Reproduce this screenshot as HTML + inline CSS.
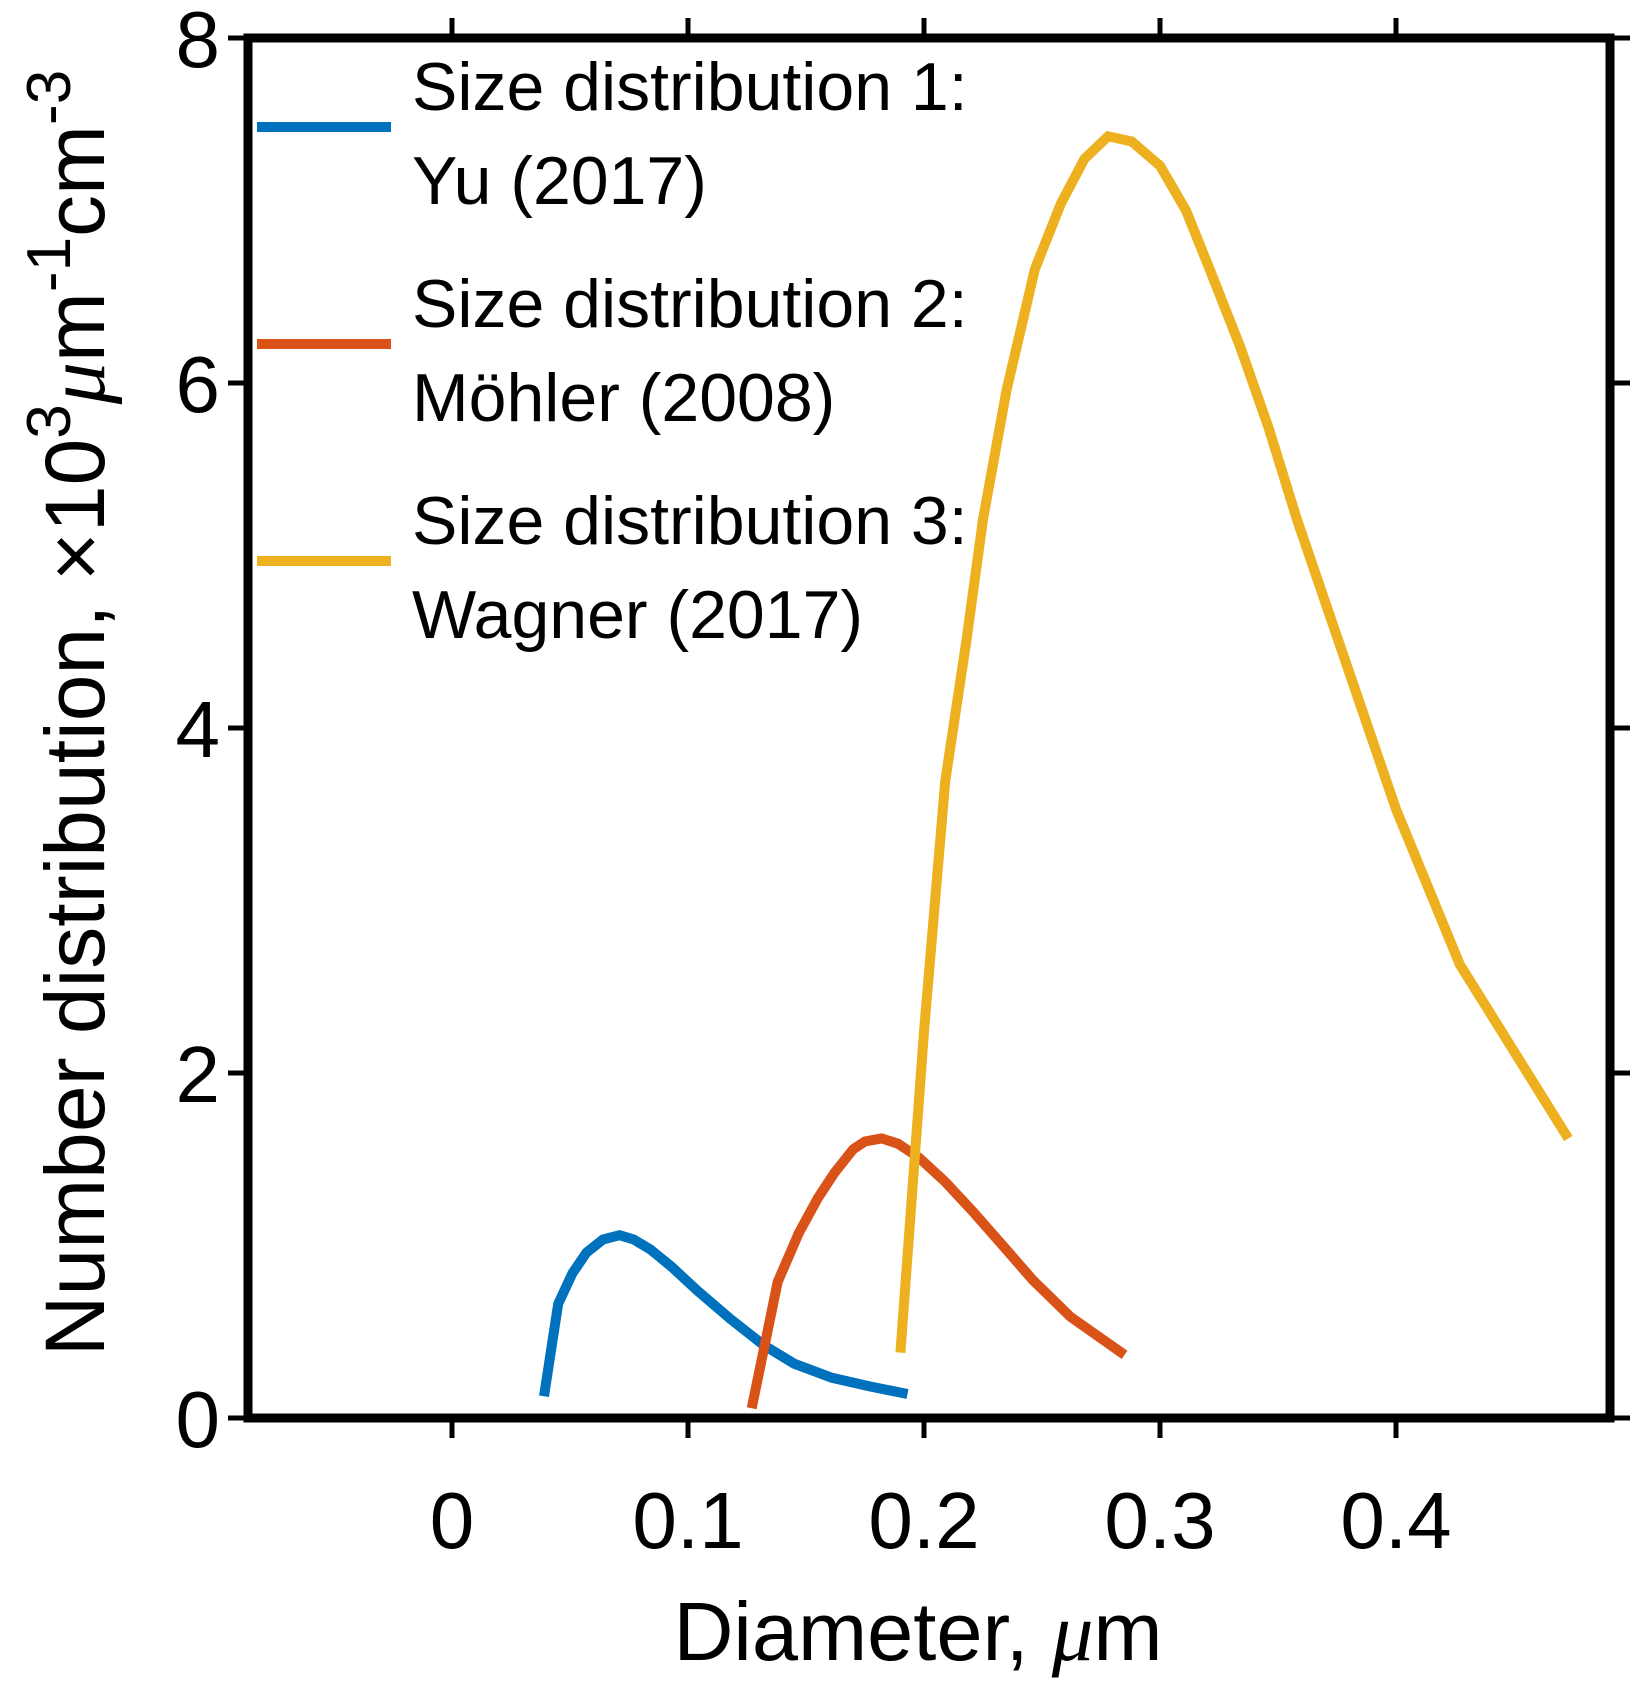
<!DOCTYPE html>
<html><head><meta charset="utf-8"><style>
html,body{margin:0;padding:0;background:#fff}
svg{display:block}
text{font-family:"Liberation Sans",Arial,sans-serif;fill:#000}
</style></head><body>
<svg id="chart" width="1642" height="1702" viewBox="0 0 1642 1702" xmlns="http://www.w3.org/2000/svg">
<g id="plot"></g>
<g id="axes"></g>
<g id="legend"></g>
<text x="918" y="1660" font-size="83" text-anchor="middle">Diameter, <tspan font-family="'Liberation Serif',serif" font-style="italic">μ</tspan>m</text>
<text transform="translate(104,713) rotate(-90)" font-size="84" text-anchor="middle">Number distribution, ×10<tspan baseline-shift="super" font-size="62">3</tspan><tspan font-family="'Liberation Serif',serif" font-style="italic">μ</tspan>m<tspan baseline-shift="super" font-size="62">-1</tspan>cm<tspan baseline-shift="super" font-size="62">-3</tspan></text>
</svg>
<script>
const xTicks=[0,0.1,0.2,0.3,0.4];
const xTickLabels=["0","0.1","0.2","0.3","0.4"];
const yTicks=[0,2,4,6,8];
const yTickLabels=["0","2","4","6","8"];
const seriesNames=["Size distribution 1:|Yu (2017)","Size distribution 2:|Möhler (2008)","Size distribution 3:|Wagner (2017)"];
const seriesColors=["#0072BD","#D95319","#EDB120"];
const blueX=[0.039,0.045,0.051,0.057,0.064,0.071,0.077,0.084,0.093,0.104,0.118,0.132,0.145,0.161,0.177,0.193];
const blueY=[0.126,0.662,0.839,0.959,1.035,1.06,1.035,0.978,0.877,0.738,0.574,0.423,0.315,0.233,0.183,0.139];
const redX=[0.127,0.138,0.147,0.155,0.162,0.170,0.175,0.182,0.189,0.198,0.209,0.221,0.234,0.246,0.262,0.285];
const redY=[0.057,0.789,1.073,1.274,1.420,1.558,1.603,1.621,1.590,1.508,1.369,1.192,0.990,0.801,0.587,0.366];
const yelX=[0.190,0.200,0.209,0.218,0.225,0.235,0.247,0.258,0.268,0.278,0.288,0.300,0.311,0.321,0.334,0.346,0.358,0.377,0.400,0.427,0.473];
const yelY=[0.379,2.24,3.69,4.51,5.21,5.96,6.66,7.04,7.30,7.43,7.40,7.26,7.00,6.66,6.21,5.74,5.21,4.45,3.53,2.63,1.62];

const L=248,R=1610,T=38,B=1418;
const X0=452,XS=2360;
const sx=v=>X0+v*XS;
const sy=v=>B-(v/8)*(B-T);
const NS="http://www.w3.org/2000/svg";
function mk(tag,attrs,parent){const e=document.createElementNS(NS,tag);for(const k in attrs)e.setAttribute(k,attrs[k]);parent.appendChild(e);return e;}
const plot=document.getElementById('plot'),axes=document.getElementById('axes'),legend=document.getElementById('legend');
const series=[[blueX,blueY],[redX,redY],[yelX,yelY]];
const snames=["series-yu-2017","series-mohler-2008","series-wagner-2017"];
series.forEach((s,i)=>{
  const pts=s[0].map((x,j)=>sx(x).toFixed(1)+','+sy(s[1][j]).toFixed(1)).join(' ');
  const p=mk('polyline',{points:pts,fill:'none',stroke:seriesColors[i],'stroke-width':10,'stroke-linejoin':'miter'},plot);
  
  
});
const frame=mk('rect',{x:L,y:T,width:R-L,height:B-T,fill:'none',stroke:'#000','stroke-width':9},axes);


xTicks.forEach((v,i)=>{
  const x=sx(v);
  const t1=mk('line',{x1:x,y1:B,x2:x,y2:B+20,stroke:'#000','stroke-width':5},axes);
  
  
  const t2=mk('line',{x1:x,y1:T,x2:x,y2:T-20,stroke:'#000','stroke-width':5},axes);
  
  
  const lb=mk('text',{x:x,y:1548,'font-size':80,'text-anchor':'middle'},axes);
  lb.textContent=xTickLabels[i];
  
  
});
yTicks.forEach((v,i)=>{
  const y=sy(v);
  const t1=mk('line',{x1:L,y1:y,x2:L-20,y2:y,stroke:'#000','stroke-width':5},axes);
  
  
  const t2=mk('line',{x1:R,y1:y,x2:R+20,y2:y,stroke:'#000','stroke-width':5},axes);
  
  
  const lb=mk('text',{x:220,y:y+29,'font-size':80,'text-anchor':'end'},axes);
  lb.textContent=yTickLabels[i];
  
  
});
seriesNames.forEach((n,i)=>{
  const cy=127+i*217;
  const g=mk('g',{},legend);
  
  
  const ln=mk('line',{x1:257,y1:cy,x2:391,y2:cy,stroke:seriesColors[i],'stroke-width':10},g);
  
  
  const parts=n.split('|');
  parts.forEach((p,k)=>{
    const t=mk('text',{x:412,y:cy-17+k*94,'font-size':68},g);
    t.textContent=p;
    
    
  });
});
</script>
</body></html>
